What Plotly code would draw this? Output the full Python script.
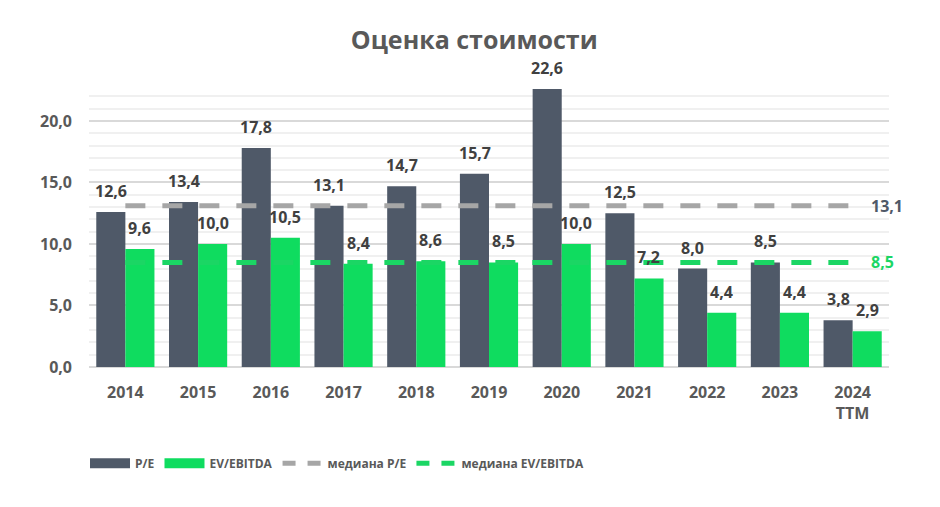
import plotly.graph_objects as go

# данные
years = ["2014", "2015", "2016", "2017", "2018", "2019", "2020", "2021", "2022", "2023", "2024<br>TTM"]
pe = [12.6, 13.4, 17.8, 13.1, 14.7, 15.7, 22.6, 12.5, 8.0, 8.5, 3.8]
ev_ebitda = [9.6, 10.0, 10.5, 8.4, 8.6, 8.5, 10.0, 7.2, 4.4, 4.4, 2.9]
median_pe = 13.1
median_ev = 8.5

PE_COLOR = "#4F5968"
EV_COLOR = "#0FDC5F"
MED_PE_COLOR = "#A6A6A6"
MED_EV_COLOR = "#1BD664"
TXT = "#595959"
FONT = "Open Sans"


def fmt(v):
    return f"{v:.1f}".replace(".", ",")


fig = go.Figure()

fig.add_trace(go.Bar(
    x=years, y=pe, name="P/E", showlegend=False,
    marker=dict(color=PE_COLOR, line=dict(width=0)),
))
fig.add_trace(go.Bar(
    x=years, y=ev_ebitda, name="EV/EBITDA", showlegend=False,
    marker=dict(color=EV_COLOR, line=dict(width=0)),
))

# медианы
fig.add_trace(go.Scatter(
    x=years, y=[median_pe] * len(years), name="медиана P/E", showlegend=False,
    mode="lines",
    line=dict(color=MED_PE_COLOR, width=5, dash="20px,17px"),
))
fig.add_trace(go.Scatter(
    x=years, y=[median_ev] * len(years), name="медиана EV/EBITDA", showlegend=False,
    mode="lines",
    line=dict(color=MED_EV_COLOR, width=5, dash="20px,17px"),
))

# элементы легенды (широкие прямоугольники как в Excel)
legend_items = [
    ("P/E", PE_COLOR, 10, "solid"),
    ("EV/EBITDA", EV_COLOR, 10, "solid"),
    ("медиана P/E", MED_PE_COLOR, 5, "13px,12px"),
    ("медиана EV/EBITDA", MED_EV_COLOR, 5, "13px,12px"),
]
for name, col, w, dash in legend_items:
    fig.add_trace(go.Scatter(
        x=[None], y=[None], name=name, mode="lines",
        line=dict(color=col, width=w, dash=dash),
    ))

# подписи (x — индекс категории)
annotations = []
for i, v in enumerate(pe):
    annotations.append(dict(
        x=i, y=v, text=fmt(v), showarrow=False, xshift=-14.5, yshift=21,
        font=dict(family=FONT, size=16, color="#404040", weight="bold"),
    ))
for i, v in enumerate(ev_ebitda):
    annotations.append(dict(
        x=i, y=v, text=fmt(v), showarrow=False, xshift=14.5, yshift=21,
        font=dict(family=FONT, size=16, color="#404040", weight="bold"),
    ))
last = len(years) - 1
annotations.append(dict(
    x=last, y=median_pe, text=fmt(median_pe), showarrow=False,
    xanchor="left", xshift=16,
    font=dict(family=FONT, size=16, color=PE_COLOR, weight="bold"),
))
annotations.append(dict(
    x=last, y=median_ev, text=fmt(median_ev), showarrow=False,
    xanchor="left", xshift=16,
    font=dict(family=FONT, size=16, color=MED_EV_COLOR, weight="bold"),
))

fig.update_layout(
    title=dict(
        text="<b>Оценка стоимости</b>",
        x=0.496, xanchor="center", y=0.937, yanchor="middle",
        font=dict(family=FONT, size=25, color=TXT),
    ),
    barmode="group",
    bargap=0.2,
    bargroupgap=0,
    separators=", ",
    xaxis=dict(
        type="category",
        range=[-0.5, last + 0.5],
        showgrid=False, showline=False, ticks="",
        ticklabelstandoff=14,
        tickfont=dict(family=FONT, size=16, color=TXT, weight="bold"),
    ),
    yaxis=dict(
        range=[0, 23],
        dtick=5,
        tickformat=".1f",
        showgrid=True, gridcolor="#D9D9D9", gridwidth=1.5,
        zeroline=True, zerolinecolor="#D9D9D9", zerolinewidth=1.5,
        minor=dict(dtick=1, showgrid=True, gridcolor="#F0F0F0", gridwidth=1.5),
        ticklabelstandoff=16,
        tickfont=dict(family=FONT, size=16, color=TXT, weight="bold"),
    ),
    legend=dict(
        orientation="h", x=0.31, xanchor="center", y=-0.34, yanchor="middle",
        font=dict(family=FONT, size=12, color=TXT, weight="bold"),
        itemwidth=40,
        traceorder="normal",
    ),
    annotations=annotations,
    plot_bgcolor="white",
    paper_bgcolor="white",
    margin=dict(l=81, r=59, t=76, b=148),
    width=940,
    height=507,
)

fig.write_html("out.html")
